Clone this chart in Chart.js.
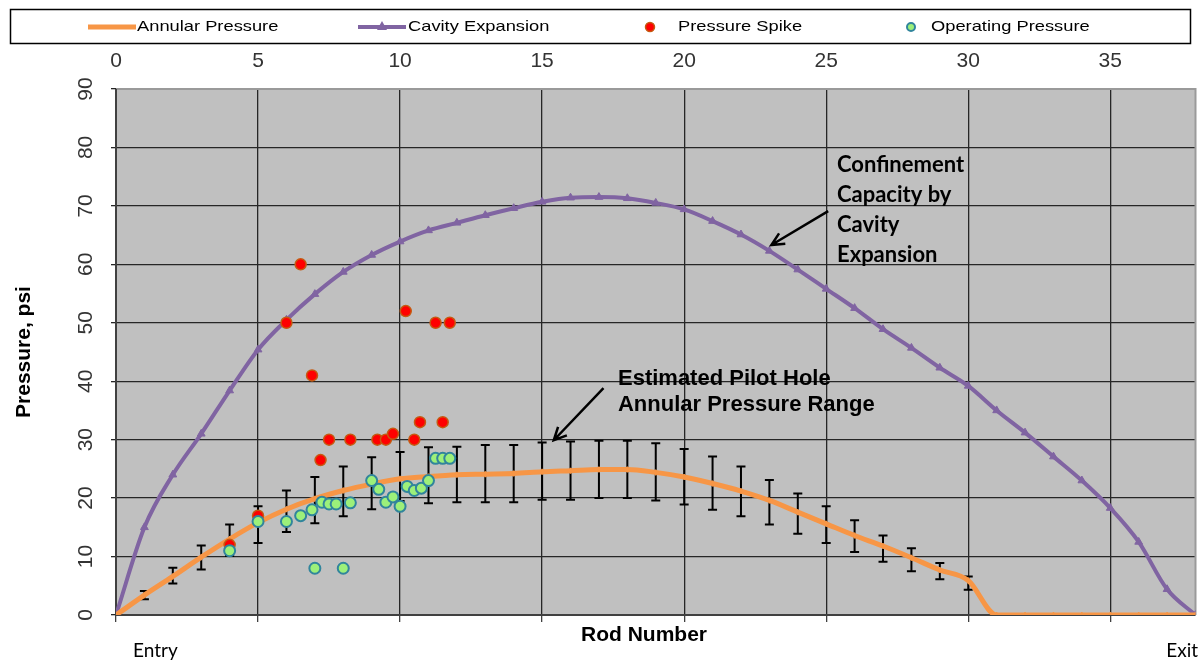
<!DOCTYPE html>
<html>
<head>
<meta charset="utf-8">
<script src="https://cdn.jsdelivr.net/npm/chart.js@4.4.0/dist/chart.umd.min.js"></script>
<style>
  html, body { margin: 0; padding: 0; background: #fff; }
  #wrap { width: 1203px; height: 662px; }
</style>
</head>
<body>
<div id="wrap"><canvas id="myChart"></canvas></div>
<script>
// rod numbers for the two curves
const rods = [0,1,2,3,4,5,6,7,8,9,10,11,12,13,14,15,16,17,18,19,20,21,22,23,24,25,26,27,28,29,30,31,32,33,34,35,36,37,38];
const annularPressure = [0,3.4,6.6,9.9,13.0,15.8,18.1,19.9,21.3,22.4,23.3,23.7,24.0,24.1,24.2,24.5,24.7,24.9,24.9,24.4,23.6,22.5,21.2,19.6,17.6,15.6,13.6,11.8,9.8,7.7,5.9,0,0,0,0,0,0,0,0];
const cavityExpansion = [0,15,24,31,38.4,45.4,50.5,54.9,58.7,61.6,63.9,65.8,67.1,68.4,69.6,70.7,71.4,71.5,71.3,70.5,69.4,67.4,65.1,62.3,59.1,55.8,52.5,48.9,45.7,42.3,39.2,35.0,31.2,27.1,23.0,18.3,12.5,4.4,0];

// estimated pilot hole annular pressure range (error bars)
const rangeRods = [1,2,3,4,5,6,7,8,9,10,11,12,13,14,15,16,17,18,19,20,21,22,23,24,25,26,27,28,29,30];
const rangeLow  = [2.7,5.4,7.8,10.1,12.3,14.2,15.7,16.9,18.1,19.5,19.1,19.3,19.3,19.3,19.7,19.7,20.0,20.0,19.6,18.9,18.0,16.9,15.5,13.9,12.3,10.8,9.1,7.5,6.1,4.3];
const rangeHigh = [4.1,8.1,11.9,15.5,18.6,21.3,23.6,25.4,27.0,27.9,28.7,28.8,29.1,29.1,29.5,29.7,29.8,29.8,29.4,28.4,27.1,25.4,23.1,20.8,18.6,16.2,13.6,11.4,8.9,6.6];

const spikeRods     = [4,5,6,6.5,6.9,7.2,7.5,8.25,9.2,9.5,9.75,10.2,10.5,10.7,11.25,11.5,11.75];
const spikePressure = [12,17,50,60,41,26.5,30,30,30,30,31,52,30,33,50,33,50];

const operatingRods     = [4,5,6,6.5,6.9,7,7.25,7.5,7.75,8,8.25,9,9.25,9.5,9.75,10,10.25,10.5,10.75,11,11.25,11.5,11.75];
const operatingPressure = [11,16,16,17,18,8,19.3,19,19,8,19.2,23,21.5,19.3,20.2,18.6,22,21.3,21.7,23,26.8,26.8,26.8];

const xTicks = [0,5,10,15,20,25,30,35];
const yTicks = [0,10,20,30,40,50,60,70,80,90];

const seriesNames = ['Annular Pressure', 'Cavity Expansion', 'Pressure Spike', 'Operating Pressure'];

const ORANGE = '#f79646', PURPLE = '#8064a2';
const AXIS_FONT = '"Liberation Sans", Arial, sans-serif';
const NOTE_FONT = 'Lato, "Open Sans", sans-serif';

function pts(xs, ys) {
    return xs.map((x, i) => ({ x: x, y: ys[i] }));
}

function arrow(ctx, x1, y1, x2, y2) {
    const a = Math.atan2(y2 - y1, x2 - x1);
    const h = 14;
    ctx.beginPath();
    ctx.moveTo(x1, y1);
    ctx.lineTo(x2, y2);
    ctx.moveTo(x2 - h * Math.cos(a - 0.45), y2 - h * Math.sin(a - 0.45));
    ctx.lineTo(x2, y2);
    ctx.lineTo(x2 - h * Math.cos(a + 0.45), y2 - h * Math.sin(a + 0.45));
    ctx.stroke();
}

function wideText(ctx, text, x, y, sx) {
    ctx.save();
    ctx.translate(x, y);
    ctx.scale(sx, 1);
    ctx.fillText(text, 0, 0);
    ctx.restore();
}

const decorPlugin = {
    id: 'decor',
    beforeDraw(chart) {
        const { ctx, chartArea: a } = chart;
        ctx.save();
        ctx.fillStyle = '#c0c0c0';
        ctx.fillRect(a.left, a.top, a.right - a.left, a.bottom - a.top);
        ctx.restore();
    },
    beforeDatasetsDraw(chart) {
        const { ctx, chartArea: a, scales } = chart;
        const xs = scales.x, ys = scales.y;
        ctx.save();
        // plot frame
        ctx.lineWidth = 2;
        ctx.strokeStyle = '#9a9a9a';
        ctx.beginPath();
        ctx.moveTo(a.left, a.top); ctx.lineTo(a.right, a.top); ctx.lineTo(a.right, a.bottom);
        ctx.stroke();
        ctx.strokeStyle = '#404040';
        ctx.beginPath();
        ctx.moveTo(a.left, a.top); ctx.lineTo(a.left, a.bottom); ctx.lineTo(a.right, a.bottom);
        ctx.stroke();
        // error bars for the estimated range
        ctx.strokeStyle = '#000';
        ctx.lineWidth = 2;
        rangeRods.forEach((r, i) => {
            const px = xs.getPixelForValue(r);
            const lo = ys.getPixelForValue(rangeLow[i]);
            const hi = ys.getPixelForValue(rangeHigh[i]);
            ctx.beginPath();
            ctx.moveTo(px, lo); ctx.lineTo(px, hi);
            ctx.moveTo(px - 4.5, lo); ctx.lineTo(px + 4.5, lo);
            ctx.moveTo(px - 4.5, hi); ctx.lineTo(px + 4.5, hi);
            ctx.stroke();
        });
        ctx.restore();
    },
    afterDraw(chart) {
        const { ctx, scales } = chart;
        const xs = scales.x, ys = scales.y;
        ctx.save();

        // y tick labels, rotated
        ctx.fillStyle = '#333';
        ctx.font = '21px ' + AXIS_FONT;
        ctx.textAlign = 'center';
        ctx.textBaseline = 'alphabetic';
        yTicks.forEach(v => {
            ctx.save();
            ctx.translate(92, ys.getPixelForValue(v));
            ctx.rotate(-Math.PI / 2);
            ctx.fillText(String(v), 0, 0);
            ctx.restore();
        });

        // axis titles
        ctx.fillStyle = '#000';
        ctx.font = 'bold 21px ' + AXIS_FONT;
        ctx.save();
        ctx.translate(30, (ys.top + ys.bottom) / 2);
        ctx.rotate(-Math.PI / 2);
        ctx.fillText('Pressure, psi', 0, 0);
        ctx.restore();
        ctx.fillText('Rod Number', 644, 641);

        ctx.font = '19px ' + NOTE_FONT;
        ctx.textAlign = 'left';
        ctx.fillText('Entry', 133, 657);
        ctx.textAlign = 'right';
        ctx.fillText('Exit', 1198, 657);

        // annotations
        ctx.textAlign = 'left';
        ctx.font = 'bold 22px ' + NOTE_FONT;
        const cx = xs.getPixelForValue(25.38);
        const cy = ys.getPixelForValue(75.8);
        ['Confinement', 'Capacity by', 'Cavity', 'Expansion'].forEach((t, i) => {
            ctx.fillText(t, cx, cy + i * 30);
        });
        ctx.font = 'bold 22px ' + AXIS_FONT;
        const ex = xs.getPixelForValue(17.67);
        const ey = ys.getPixelForValue(39.3);
        ctx.fillText('Estimated Pilot Hole', ex, ey);
        ctx.fillText('Annular Pressure Range', ex, ey + 26);

        ctx.strokeStyle = '#000';
        ctx.lineWidth = 2.5;
        arrow(ctx, xs.getPixelForValue(25.07), ys.getPixelForValue(69.1), xs.getPixelForValue(23.07), ys.getPixelForValue(63.3));
        arrow(ctx, xs.getPixelForValue(17.16), ys.getPixelForValue(38.8), xs.getPixelForValue(15.41), ys.getPixelForValue(29.9));

        // legend box
        ctx.strokeStyle = '#000';
        ctx.lineWidth = 1.5;
        ctx.strokeRect(10.5, 9.5, 1180, 34);
        ctx.font = '15px ' + AXIS_FONT;
        ctx.textBaseline = 'middle';
        ctx.fillStyle = '#000';
        const ly = 27;
        ctx.lineWidth = 5;
        ctx.strokeStyle = ORANGE;
        ctx.beginPath(); ctx.moveTo(88, ly); ctx.lineTo(136, ly); ctx.stroke();
        wideText(ctx, seriesNames[0], 137, ly, 1.22);
        ctx.lineWidth = 4;
        ctx.strokeStyle = PURPLE;
        ctx.beginPath(); ctx.moveTo(358, ly); ctx.lineTo(406, ly); ctx.stroke();
        ctx.fillStyle = PURPLE;
        ctx.beginPath(); ctx.moveTo(382, ly - 6); ctx.lineTo(387, ly + 3); ctx.lineTo(377, ly + 3); ctx.closePath(); ctx.fill();
        ctx.fillStyle = '#000';
        wideText(ctx, seriesNames[1], 408, ly, 1.22);
        ctx.lineWidth = 1.5;
        ctx.fillStyle = '#ff0000'; ctx.strokeStyle = '#c55a11';
        ctx.beginPath(); ctx.arc(650, ly, 4.5, 0, Math.PI * 2); ctx.fill(); ctx.stroke();
        ctx.fillStyle = '#000';
        wideText(ctx, seriesNames[2], 678, ly, 1.22);
        ctx.lineWidth = 2;
        ctx.fillStyle = '#9cf07a'; ctx.strokeStyle = '#31859c';
        ctx.beginPath(); ctx.arc(911, ly, 4, 0, Math.PI * 2); ctx.fill(); ctx.stroke();
        ctx.fillStyle = '#000';
        wideText(ctx, seriesNames[3], 931, ly, 1.22);

        ctx.restore();
    }
};

const ctx = document.getElementById('myChart');
const myChart = new Chart(ctx, {
    type: 'scatter',
    data: {
        datasets: [{
            label: seriesNames[3],
            data: pts(operatingRods, operatingPressure),
            backgroundColor: '#9cf07a',
            borderColor: '#31859c',
            borderWidth: 2,
            pointRadius: 5.5,
            showLine: false
        }, {
            label: seriesNames[2],
            data: pts(spikeRods, spikePressure),
            backgroundColor: '#ff0000',
            borderColor: '#c55a11',
            borderWidth: 1.5,
            pointRadius: 5.5,
            showLine: false
        }, {
            label: seriesNames[0],
            data: pts(rods, annularPressure),
            showLine: true,
            borderColor: ORANGE,
            backgroundColor: ORANGE,
            borderWidth: 5,
            cubicInterpolationMode: 'monotone',
            pointStyle: 'line',
            pointRotation: 90,
            pointRadius: 3,
            pointBorderWidth: 1.5
        }, {
            label: seriesNames[1],
            data: pts(rods, cavityExpansion),
            showLine: true,
            borderColor: PURPLE,
            backgroundColor: PURPLE,
            borderWidth: 4,
            cubicInterpolationMode: 'monotone',
            pointStyle: 'triangle',
            pointRadius: 4.5,
            pointBorderWidth: 1
        }]
    },
    options: {
        responsive: true,
        maintainAspectRatio: false,
        animation: false,
        layout: { padding: { left: 0, right: 6, top: 0, bottom: 0 } },
        plugins: {
            legend: { display: false },
            tooltip: { enabled: false }
        },
        scales: {
            x: {
                type: 'linear',
                position: 'top',
                min: 0,
                max: 38,
                afterBuildTicks: s => { s.ticks = xTicks.map(v => ({ value: v })); },
                afterFit: s => { s.height = 89; },
                ticks: {
                    padding: 15,
                    color: '#333',
                    font: { size: 21, family: AXIS_FONT }
                },
                grid: { color: '#262626', lineWidth: 1.3, drawTicks: false },
                border: { display: false }
            },
            x2: {
                type: 'linear',
                position: 'bottom',
                min: 0,
                max: 38,
                afterBuildTicks: s => { s.ticks = xTicks.map(v => ({ value: v })); },
                afterFit: s => { s.height = 47; },
                ticks: { display: false },
                grid: { drawOnChartArea: false, color: '#404040', lineWidth: 1.3, tickLength: 7 },
                border: { display: false }
            },
            y: {
                min: 0,
                max: 90,
                afterBuildTicks: s => { s.ticks = yTicks.map(v => ({ value: v })); },
                afterFit: s => { s.width = 116; },
                ticks: { display: false },
                grid: { color: '#262626', lineWidth: 1.3, tickLength: 5 },
                border: { display: false }
            }
        }
    },
    plugins: [decorPlugin]
});
</script>
</body>
</html>
